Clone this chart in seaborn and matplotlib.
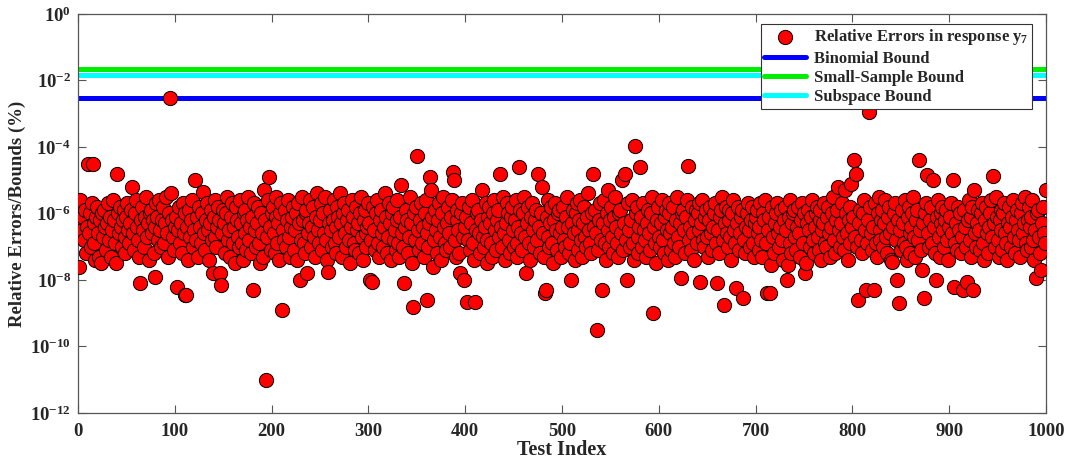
import numpy as np
import pandas as pd
import matplotlib
matplotlib.use("Agg")
import matplotlib.pyplot as plt
import seaborn as sns

# log10 of the relative error for each test case, in blocks of 100
block_01 = [-7.6, -5.6, -6.2, -6.5, -6.1, -6.8, -5.9, -7.2, -6.4, -4.5,
            -6.6, -6.0, -7.0, -5.7, -4.5, -6.3, -6.9, -7.4, -6.1, -5.8,
            -6.6, -7.3, -6.2, -7.5, -6.0, -6.7, -5.9, -6.4, -7.1, -6.3,
            -5.7, -6.8, -6.1, -7.3, -6.5, -5.6, -6.2, -6.9, -7.5, -4.8,
            -6.0, -6.6, -5.8, -6.4, -7.0, -6.2, -5.9, -6.7, -7.2, -6.1,
            -5.7, -6.5, -6.9, -6.3, -5.9, -5.2, -6.6, -7.1, -6.0, -5.6,
            -6.4, -6.8, -7.3, -8.1, -6.2, -5.8, -6.5, -7.0, -6.1, -5.5,
            -6.7, -6.3, -7.4, -6.0, -5.9, -6.6, -6.2, -7.2, -6.4, -7.9,
            -5.7, -6.1, -6.8, -5.6, -6.5, -7.0, -6.2, -5.8, -6.9, -6.3,
            -5.5, -6.6, -7.3, -6.0, -2.52, -5.4, -6.2, -6.7, -7.1, -6.4]
block_02 = [-6.1, -8.2, -6.5, -5.8, -6.9, -6.3, -7.2, -5.7, -6.6, -8.45,
            -6.0, -8.45, -6.4, -7.4, -5.9, -6.7, -6.2, -5.6, -7.0, -6.5,
            -5.0, -6.8, -6.1, -7.3, -5.8, -6.4, -6.9, -6.0, -5.35, -6.6,
            -7.1, -6.2, -5.7, -6.5, -7.4, -6.3, -5.9, -6.8, -7.8, -6.1,
            -5.6, -6.7, -7.0, -6.4, -5.8, -6.2, -7.8, -8.15, -6.6, -5.9,
            -6.3, -7.2, -6.0, -5.5, -6.8, -6.5, -7.3, -6.1, -5.7, -6.9,
            -6.4, -7.5, -5.8, -6.2, -6.7, -7.0, -5.6, -6.3, -6.9, -7.4,
            -6.0, -5.9, -6.6, -7.1, -6.2, -5.5, -6.8, -6.4, -7.2, -6.1,
            -8.3, -5.7, -6.5, -7.0, -6.3, -5.8, -6.9, -7.5, -6.0, -6.6,
            -7.3, -5.3, -6.2, -11.0, -6.7, -5.6, -4.9, -6.4, -7.1, -6.0]
block_03 = [-5.8, -6.6, -7.2, -6.1, -5.5, -6.9, -6.3, -7.4, -6.0, -5.7,
            -8.9, -6.5, -6.8, -5.9, -7.0, -6.2, -5.6, -6.7, -7.3, -6.4,
            -6.1, -5.8, -7.1, -6.5, -6.0, -7.4, -5.7, -6.3, -8.0, -6.8,
            -5.5, -6.2, -6.9, -7.2, -6.0, -5.9, -7.8, -6.6, -6.3, -5.6,
            -7.0, -6.4, -5.8, -6.7, -7.3, -6.1, -5.4, -6.5, -6.9, -6.2,
            -5.7, -7.1, -6.0, -6.6, -5.5, -6.8, -7.4, -7.75, -6.3, -5.9,
            -6.5, -7.0, -6.2, -5.6, -6.9, -6.4, -7.2, -5.8, -6.1, -6.7,
            -5.4, -6.3, -7.3, -6.0, -5.7, -6.6, -7.0, -6.2, -5.9, -6.8,
            -7.5, -6.4, -5.6, -6.1, -6.9, -7.1, -5.8, -6.5, -6.3, -7.2,
            -6.0, -5.5, -6.7, -7.4, -6.2, -5.9, -6.6, -7.0, -6.4, -5.7]
block_04 = [-6.3, -8.0, -6.8, -8.05, -5.8, -6.5, -7.1, -6.0, -5.6, -6.9,
            -7.3, -6.2, -5.9, -6.6, -7.0, -6.4, -5.4, -6.1, -7.2, -6.7,
            -5.7, -6.3, -7.4, -6.0, -5.8, -6.8, -6.5, -7.1, -6.2, -5.6,
            -6.9, -7.3, -6.1, -5.15, -6.6, -7.0, -8.1, -6.4, -5.9, -6.2,
            -7.2, -6.7, -5.5, -6.3, -7.5, -8.8, -6.0, -6.8, -5.8, -4.27,
            -6.5, -7.1, -6.2, -5.7, -6.9, -6.4, -7.3, -6.0, -5.6, -8.6,
            -6.6, -7.0, -6.3, -4.9, -5.3, -6.1, -7.6, -6.8, -5.9, -6.5,
            -7.2, -6.2, -5.7, -6.7, -7.4, -6.0, -5.5, -6.4, -6.9, -7.1,
            -6.3, -5.8, -6.6, -7.0, -6.1, -5.6, -4.75, -5.0, -6.8, -7.3,
            -6.2, -5.9, -6.5, -7.2, -7.8, -6.0, -5.7, -6.7, -8.0, -6.4]
block_05 = [-6.1, -8.65, -6.8, -5.8, -7.1, -6.3, -5.6, -6.9, -7.4, -8.65,
            -6.5, -6.0, -5.9, -6.6, -7.2, -6.2, -5.3, -6.7, -7.0, -6.4,
            -5.7, -6.8, -7.5, -6.1, -5.8, -6.3, -6.9, -7.3, -6.0, -5.6,
            -6.5, -7.1, -6.2, -5.9, -6.7, -4.8, -6.4, -7.0, -5.5, -6.6,
            -7.4, -6.3, -5.7, -6.0, -6.8, -7.2, -6.1, -5.8, -6.5, -7.0,
            -6.2, -5.6, -6.9, -7.3, -6.4, -4.6, -5.9, -6.6, -7.1, -6.0,
            -5.5, -6.7, -7.8, -6.3, -5.8, -6.9, -7.4, -6.1, -5.7, -6.5,
            -7.0, -6.2, -5.9, -6.8, -4.8, -6.4, -7.2, -6.0, -5.2, -6.6,
            -7.3, -8.4, -8.3, -6.1, -5.6, -6.7, -7.0, -6.3, -5.8, -6.9,
            -7.5, -6.2, -5.7, -6.5, -7.1, -6.0, -5.9, -6.6, -7.3, -6.4]
block_06 = [-5.8, -6.8, -7.0, -6.1, -5.5, -6.4, -7.2, -6.9, -8.0, -6.3,
            -5.9, -6.6, -7.4, -6.0, -5.7, -6.5, -7.1, -6.2, -5.6, -6.8,
            -7.3, -6.3, -5.8, -6.7, -7.0, -6.1, -5.4, -6.5, -6.9, -7.2,
            -6.0, -4.8, -6.4, -5.9, -6.6, -9.5, -7.1, -6.2, -5.7, -6.8,
            -8.3, -6.3, -5.6, -6.9, -7.4, -6.0, -5.3, -6.5, -7.0, -6.2,
            -5.8, -6.7, -7.2, -6.1, -5.5, -6.4, -6.9, -7.3, -6.0, -5.9,
            -6.6, -5.0, -7.1, -6.3, -4.8, -6.8, -8.0, -5.7, -6.5, -7.0,
            -6.2, -5.6, -6.9, -7.4, -3.97, -6.0, -5.8, -6.7, -7.2, -6.4,
            -4.6, -6.1, -7.0, -5.7, -6.5, -6.8, -7.3, -6.3, -5.9, -6.6,
            -7.1, -6.0, -5.5, -9.0, -6.4, -6.9, -7.5, -6.2, -5.8, -6.7]
block_07 = [-7.0, -6.3, -5.6, -6.8, -7.2, -6.1, -5.9, -6.5, -7.4, -6.0,
            -5.7, -6.6, -7.1, -6.4, -5.8, -6.9, -7.3, -6.2, -5.5, -6.7,
            -7.0, -6.3, -7.95, -6.0, -5.9, -6.5, -7.2, -6.1, -5.6, -4.57,
            -6.8, -6.4, -7.1, -5.8, -6.6, -7.4, -6.2, -5.9, -6.9, -6.0,
            -5.7, -6.5, -8.05, -6.3, -5.6, -6.8, -7.0, -6.1, -5.9, -6.7,
            -7.3, -6.2, -5.8, -6.6, -7.1, -6.4, -6.0, -5.7, -6.9, -8.1,
            -6.5, -7.2, -6.1, -5.9, -5.5, -6.8, -8.75, -6.3, -5.8, -6.6,
            -7.0, -6.2, -5.9, -6.7, -7.4, -6.0, -5.6, -6.5, -6.9, -8.25,
            -6.3, -5.8, -7.1, -6.6, -6.1, -5.9, -8.55, -6.8, -7.2, -6.4,
            -6.0, -5.7, -6.5, -7.0, -6.2, -5.8, -6.9, -7.3, -6.3, -6.1]
block_08 = [-5.9, -6.6, -7.1, -6.4, -5.7, -6.8, -7.3, -6.0, -6.2, -5.6,
            -6.9, -8.4, -6.5, -6.1, -8.4, -7.55, -5.8, -6.7, -7.2, -6.3,
            -6.0, -5.7, -6.6, -7.0, -6.4, -5.9, -6.8, -7.4, -6.2, -5.8,
            -6.5, -8.0, -7.55, -6.1, -5.6, -6.9, -7.2, -6.3, -6.0, -5.9,
            -6.7, -7.1, -6.4, -5.8, -6.6, -7.3, -6.2, -5.7, -6.9, -6.0,
            -7.8, -7.5, -6.3, -5.9, -6.5, -7.0, -6.1, -5.6, -6.8, -7.2,
            -6.4, -6.0, -5.8, -6.7, -7.1, -6.2, -5.9, -7.4, -6.5, -6.3,
            -5.7, -6.9, -7.0, -6.1, -5.8, -6.6, -7.3, -6.4, -6.0, -5.5,
            -6.8, -7.2, -6.2, -5.9, -5.2, -6.5, -7.0, -6.3, -5.7, -6.7,
            -7.1, -5.3, -6.0, -6.6, -7.4, -6.2, -5.8, -6.9, -5.1, -6.4]
block_09 = [-6.1, -4.4, -6.7, -4.8, -7.0, -8.6, -6.3, -5.9, -6.8, -7.2,
            -6.0, -5.6, -6.5, -8.3, -6.9, -6.2, -2.95, -5.8, -6.6, -7.1,
            -6.4, -8.3, -5.7, -6.9, -7.3, -6.0, -5.5, -6.5, -6.8, -6.2,
            -5.9, -7.0, -6.3, -5.6, -6.7, -7.2, -6.1, -5.8, -6.6, -7.4,
            -7.45, -6.4, -6.0, -5.7, -6.8, -8.0, -6.2, -8.7, -6.5, -7.1,
            -5.9, -6.3, -6.9, -5.6, -7.0, -7.4, -6.1, -5.8, -6.6, -7.2,
            -6.4, -6.0, -5.5, -6.7, -7.3, -6.2, -5.9, -6.8, -4.4, -6.5,
            -7.1, -7.7, -6.3, -8.55, -6.0, -5.7, -4.85, -6.6, -7.0, -6.2,
            -5.8, -6.9, -5.0, -6.4, -7.2, -8.0, -6.1, -5.6, -6.7, -7.3,
            -6.3, -6.0, -5.8, -6.5, -7.0, -6.2, -5.9, -6.8, -7.4, -6.4]
block_10 = [-6.1, -5.7, -6.6, -5.0, -8.2, -6.9, -6.3, -7.1, -5.8, -6.5,
            -6.0, -7.2, -6.7, -8.3, -5.9, -6.4, -7.0, -8.05, -6.2, -5.6,
            -6.8, -7.3, -6.1, -5.8, -8.3, -5.3, -6.6, -7.0, -6.3, -5.9,
            -6.5, -7.1, -6.0, -5.7, -6.9, -7.4, -6.2, -5.8, -6.6, -7.2,
            -6.4, -6.0, -5.6, -6.7, -4.87, -6.3, -7.0, -5.5, -6.1, -6.8,
            -7.3, -6.2, -5.9, -6.5, -7.1, -6.0, -5.7, -6.6, -6.9, -7.4,
            -6.3, -5.8, -6.4, -7.0, -6.1, -5.6, -6.7, -7.2, -6.2, -5.9,
            -6.5, -6.8, -7.3, -6.0, -5.7, -6.6, -6.3, -5.5, -6.9, -7.1,
            -6.2, -5.8, -6.4, -7.0, -6.1, -5.6, -6.8, -7.4, -6.5, -7.95,
            -6.0, -5.9, -6.7, -7.2, -7.7, -6.3, -5.8, -6.6, -6.9, -5.3]

# Bound levels (%)
binomial_bound = 3.0e-3
small_sample_bound = 2.2e-2
subspace_bound = 1.45e-2

log_err = np.concatenate([block_01, block_02, block_03, block_04, block_05,
                          block_06, block_07, block_08, block_09, block_10])
test_index = np.arange(1, len(log_err) + 1)
df = pd.DataFrame({"Test Index": test_index, "err": 10.0 ** log_err})

sns.set_style("ticks")
plt.rcParams["font.family"] = ["Liberation Serif", "DejaVu Serif"]
plt.rcParams["font.weight"] = "bold"
plt.rcParams["mathtext.fontset"] = "custom"
plt.rcParams["mathtext.rm"] = "Liberation Serif:bold"
plt.rcParams["mathtext.it"] = "Liberation Serif:bold"
plt.rcParams["mathtext.bf"] = "Liberation Serif:bold"

fig = plt.figure(figsize=(10.69, 4.65), dpi=100)
ax = fig.add_axes([0.073, 0.112, 0.9055, 0.858])

sns.scatterplot(data=df, x="Test Index", y="err", ax=ax, s=105,
                color="#ff0000", edgecolor="black", linewidth=0.7,
                label=r"Relative Errors in response y$_7$", zorder=3)

bounds = [("Binomial Bound", binomial_bound, "#0000ff"),
          ("Small-Sample Bound", small_sample_bound, "#00ee00"),
          ("Subspace Bound", subspace_bound, "#00ffff")]
for name, val, col in bounds:
    sns.lineplot(x=[0, 1000], y=[val, val], ax=ax, color=col, lw=3.6,
                 label=name, zorder=2)

ax.set_yscale("log")
ax.set_xlim(0, 1000)
ax.set_ylim(1e-12, 1e0)
ax.set_xticks(np.arange(0, 1001, 100))
ax.set_yticks([10.0 ** k for k in range(-12, 1, 2)])
ax.yaxis.set_minor_locator(matplotlib.ticker.NullLocator())
ax.tick_params(axis="both", which="major", direction="in", length=6,
               width=0.8, color="#555555", labelsize=13.5,
               top=True, right=True)
ax.tick_params(axis="x", pad=7)
ax.tick_params(axis="y", pad=5)
for sp in ax.spines.values():
    sp.set_color("#555555")
    sp.set_linewidth(0.9)
for lab in ax.get_xticklabels() + ax.get_yticklabels():
    lab.set_fontweight("bold")

ax.set_xlabel("Test Index", fontsize=14.5, fontweight="bold", labelpad=0)
ax.set_ylabel("Relative Errors/Bounds (%)", fontsize=13.5,
              fontweight="bold", labelpad=3)

leg = ax.legend(loc="upper right", bbox_to_anchor=(0.9855, 0.975),
                borderaxespad=0, fancybox=False, framealpha=1,
                edgecolor="#333333", handlelength=2.5,
                labelspacing=0.2, borderpad=0.2, handletextpad=0.5,
                prop={"weight": "bold", "size": 12})
leg.get_frame().set_linewidth(0.8)

fig.savefig("out.png", dpi=100)
